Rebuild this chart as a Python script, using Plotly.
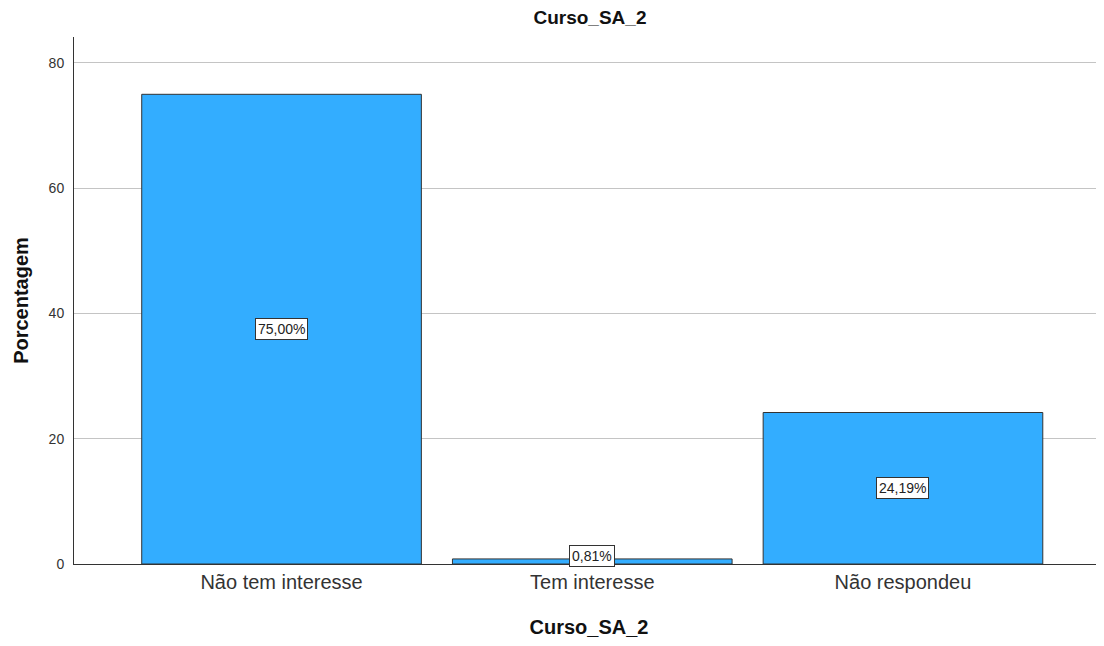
import plotly.graph_objects as go

categories = ["Não tem interesse", "Tem interesse", "Não respondeu"]
values = [75.00, 0.81, 24.19]
labels = ["75,00%", "0,81%", "24,19%"]
y_ticks = [0, 20, 40, 60, 80]

fig = go.Figure()
fig.add_trace(go.Bar(
    x=categories, y=values, width=0.9,
    marker=dict(color="#33adff", line=dict(color="#333333", width=1)),
    hoverinfo="skip",
))

for c, v, t in zip(categories, values, labels):
    fig.add_annotation(
        x=c, y=v / 2, text=t, showarrow=False,
        font=dict(family="Liberation Sans, Arial", size=14, color="#222222"),
        bgcolor="white", bordercolor="#333333", borderwidth=1, borderpad=2,
        yshift=5 if v < 2 else 0,
    )

fig.update_layout(
    width=1096, height=638,
    margin=dict(l=66, r=0, t=29, b=82),
    paper_bgcolor="white", plot_bgcolor="white",
    showlegend=False,
    font=dict(family="Liberation Sans, Arial", color="#222222"),
    title=dict(text="<b>Curso_SA_2</b>", x=0.531, xanchor="center",
               yref="container", y=0.986, yanchor="middle",
               font=dict(size=19, color="#111111")),
    xaxis=dict(
        range=[-0.668, 2.647], showgrid=False, ticks="",
        showline=True, linecolor="#333333", linewidth=1,
        tickfont=dict(size=20, color="#333333"),
        title=dict(text="<b>Curso_SA_2</b>", font=dict(size=20, color="#111111"), standoff=27),
    ),
    yaxis=dict(
        range=[0, 84.15], tickvals=y_ticks, showgrid=True, gridcolor="#c4c4c4", gridwidth=1,
        showline=True, linecolor="#333333", linewidth=1, zeroline=False,
        ticks="outside", ticklen=6, tickcolor="white",
        tickfont=dict(size=14, color="#333333"),
        title=dict(text="<b>Porcentagem</b>", font=dict(size=20, color="#111111"), standoff=14),
    ),
    bargap=0.1,
)

fig.write_html("out.html")
